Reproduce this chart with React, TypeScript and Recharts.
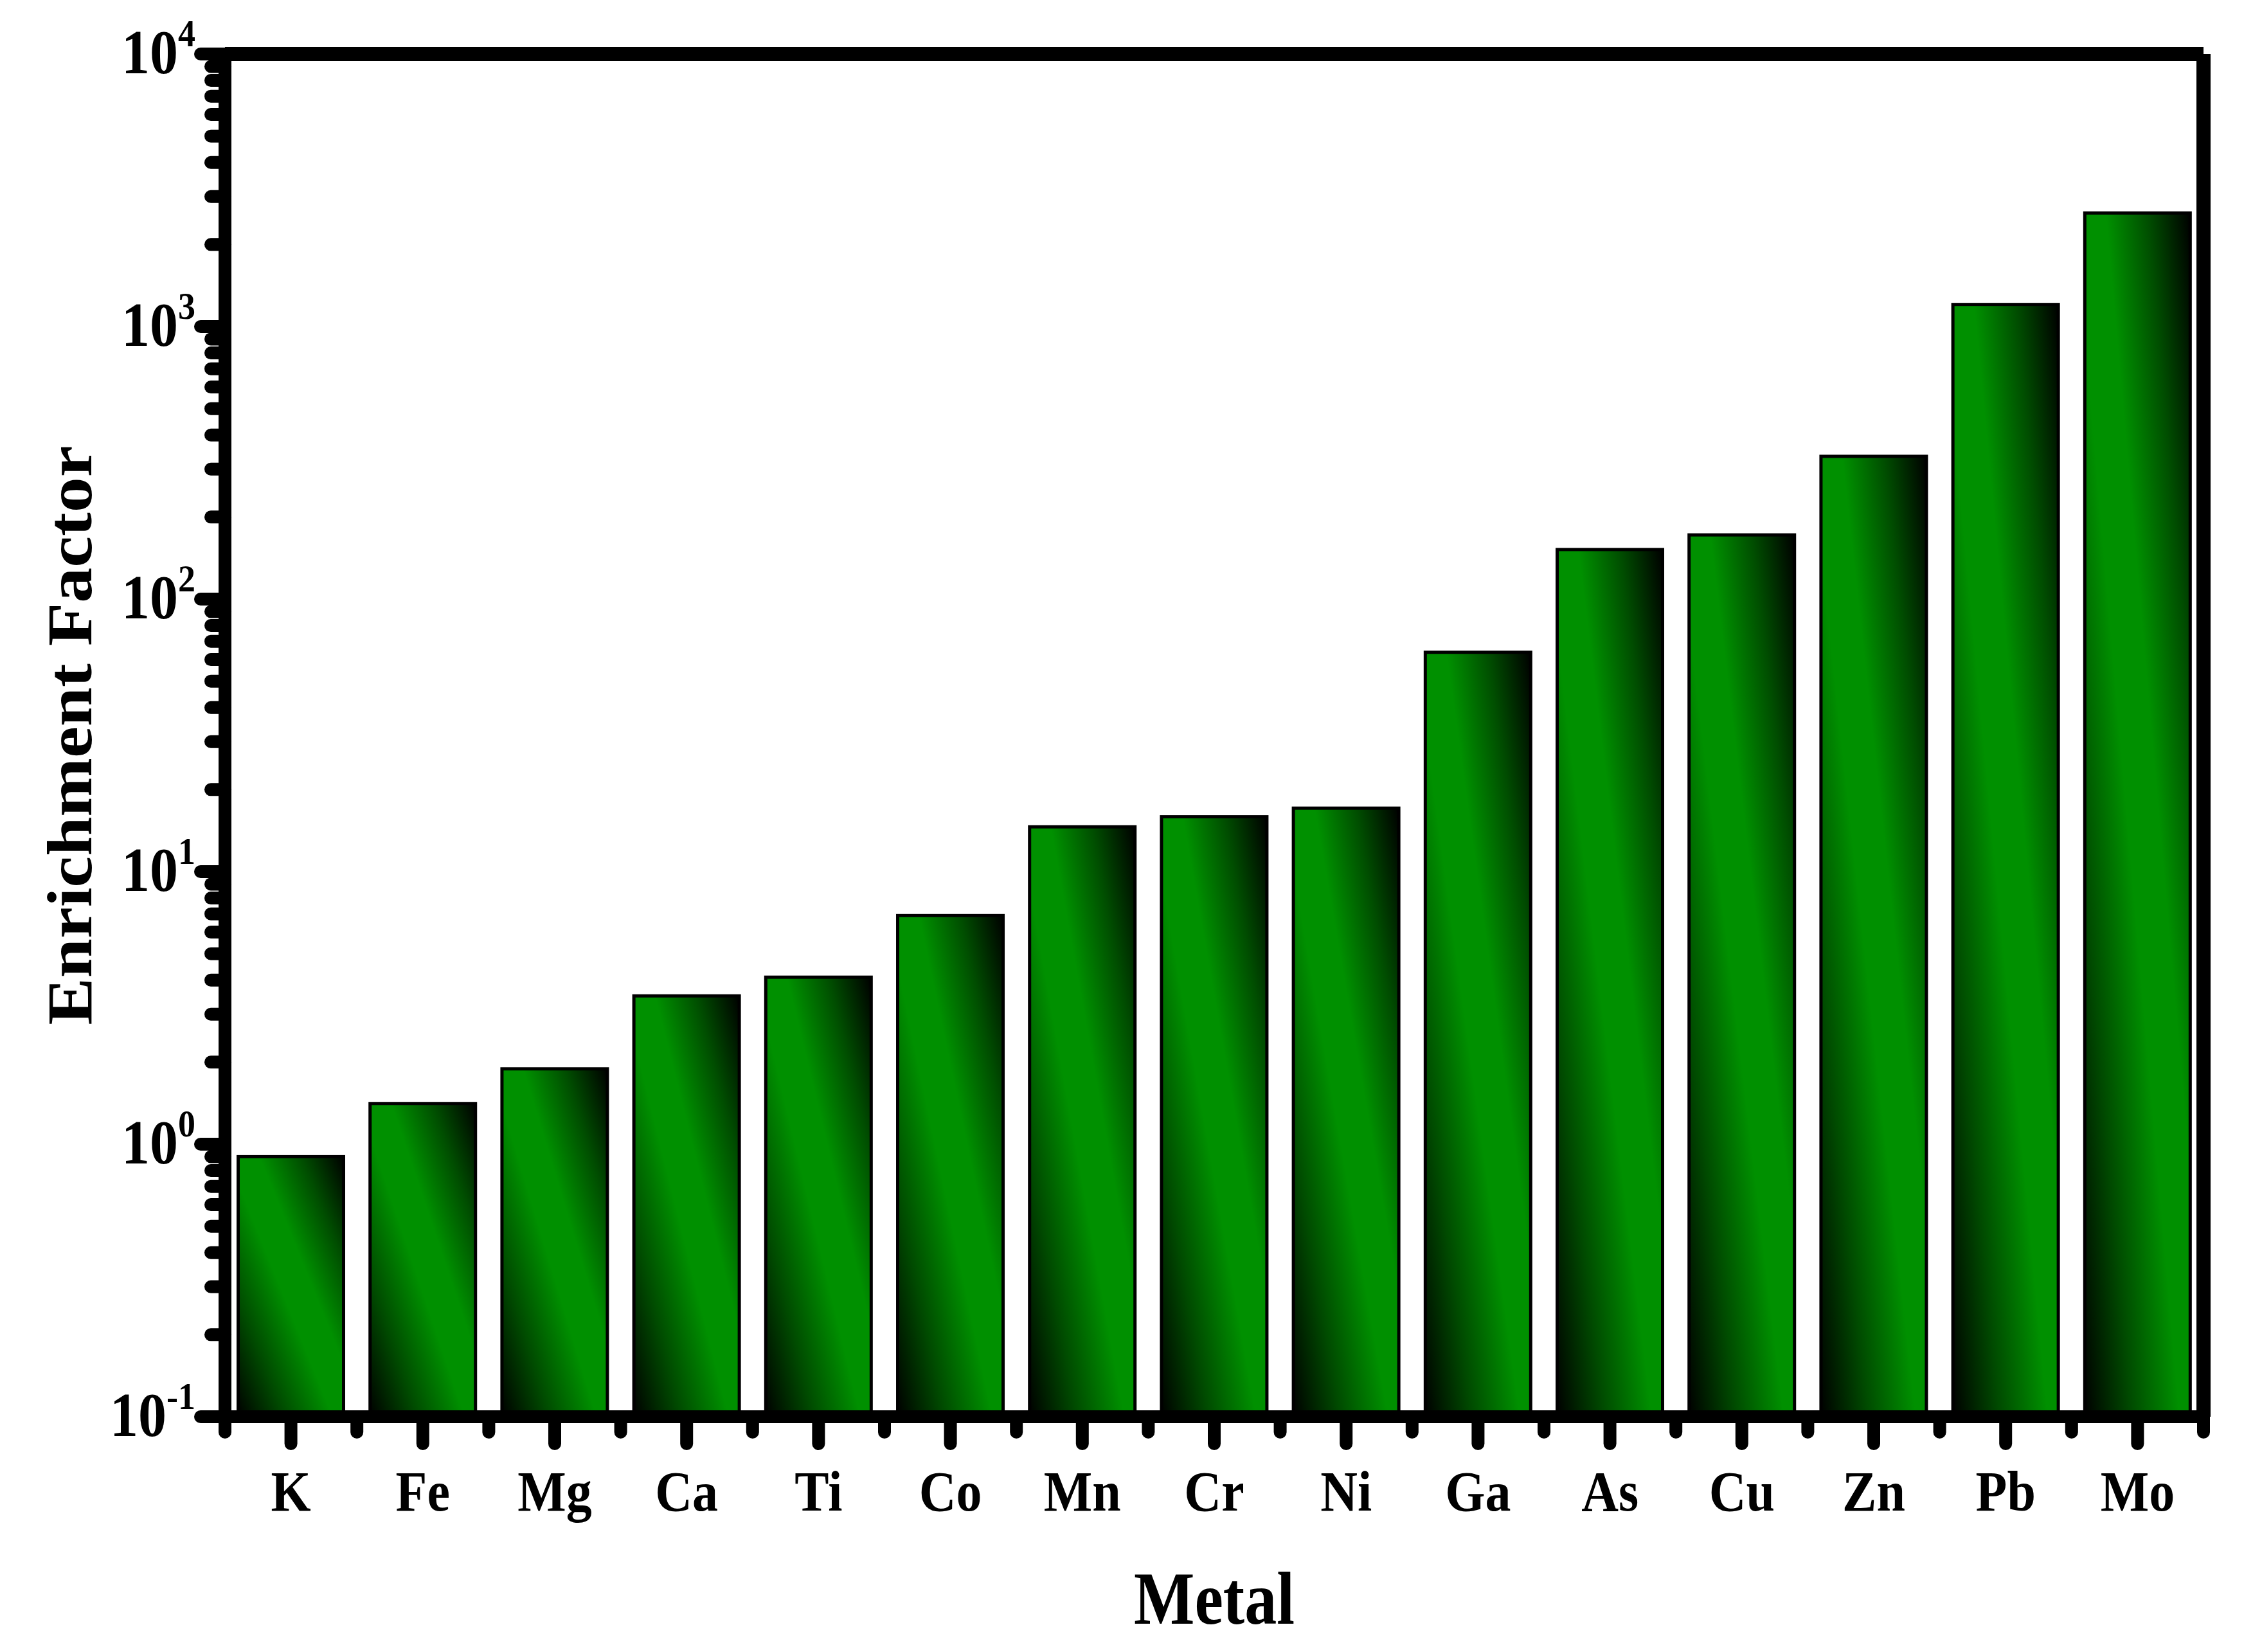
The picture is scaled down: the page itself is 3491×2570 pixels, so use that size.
import React from "react";
import { ComposedChart, Bar, XAxis, YAxis } from "recharts";

const metals = ["K", "Fe", "Mg", "Ca", "Ti", "Co", "Mn", "Cr", "Ni", "Ga", "As", "Cu", "Zn", "Pb", "Mo"];
const enrichment = [0.9, 1.41, 1.89, 3.5, 4.1, 6.9, 14.6, 15.9, 17.1, 63.8, 152, 172, 334, 1205, 2610];

const majorTicks = [0.1, 1, 10, 100, 1000, 10000];
const majorLabels = ["-1", "0", "1", "2", "3", "4"];
const minorSteps = [2, 3, 4, 5, 6, 7, 8, 9];

const data = metals.map((metal, i) => ({ metal, ef: enrichment[i] }));

// every tick on the log axis: majors plus 2..9 in each decade
const yTicks: number[] = [];
majorTicks.forEach((m, i) => {
    yTicks.push(m);
    if (i < majorTicks.length - 1) minorSteps.forEach((s) => yTicks.push(+(m * s).toPrecision(3)));
});

const FONT = "Liberation Serif, Times New Roman, serif";

const majorIndex = (v: number) => majorTicks.findIndex((m) => Math.abs(m - v) / m < 1e-6);

const YTick = (props: any) => {
    const { x, y, payload } = props;
    const idx = majorIndex(payload.value);
    const major = idx >= 0;
    return (
        <g>
            <line x1={x} x2={x - (major ? 38 : 22)} y1={y} y2={y} stroke="#000" strokeWidth={20} strokeLinecap="round" />
            {major && (
                <text
                    transform={`translate(${x - 46},${y + 30}) scale(1,1.1)`}
                    textAnchor="end"
                    fontFamily={FONT}
                    fontWeight="bold"
                    fontSize={88}
                    fill="#000"
                >
                    10
                    <tspan dy={-38} fontSize={54}>{majorLabels[idx]}</tspan>
                </text>
            )}
        </g>
    );
};

const XTick = (props: any) => {
    const { x, y, payload, index, width, visibleTicksCount } = props;
    const step = width && visibleTicksCount ? width / visibleTicksCount : 205;
    const last = index === visibleTicksCount - 1;
    return (
        <g>
            <line x1={x} x2={x} y1={y} y2={y + 42} stroke="#000" strokeWidth={20} strokeLinecap="round" />
            <line x1={x - step / 2} x2={x - step / 2} y1={y} y2={y + 24} stroke="#000" strokeWidth={20} strokeLinecap="round" />
            {last && <line x1={x + step / 2} x2={x + step / 2} y1={y} y2={y + 24} stroke="#000" strokeWidth={20} strokeLinecap="round" />}
            <text
                transform={`translate(${x},${y + 146}) scale(1,1.12)`}
                textAnchor="middle"
                fontFamily={FONT}
                fontWeight="bold"
                fontSize={80}
                fill="#000"
            >
                {payload.value}
            </text>
        </g>
    );
};

const GradientBar = (props: any) => {
    const { x, y, width, height } = props;
    if (!height || height <= 0) return null;
    return <rect x={x} y={y} width={width} height={height} fill="url(#barFill)" stroke="#000" strokeWidth={5} />;
};

export default function App() {
    return (
        <div style={{ position: "absolute", left: 0, top: 0, width: 3491, height: 2570, background: "#fff" }}>
            <ComposedChart
                width={3491}
                height={2570}
                data={data}
                margin={{ top: 83, right: 62, bottom: 116, left: 100 }}
                barCategoryGap="10%"
            >
                <defs>
                    <linearGradient id="barFill" x1="0" y1="1" x2="1" y2="0">
                        <stop offset="0" stopColor="#000000" />
                        <stop offset="0.22" stopColor="#004a00" />
                        <stop offset="0.45" stopColor="#009000" />
                        <stop offset="0.6" stopColor="#009000" />
                        <stop offset="0.8" stopColor="#004d00" />
                        <stop offset="1" stopColor="#000000" />
                    </linearGradient>
                </defs>
                <XAxis
                    dataKey="metal"
                    interval={0}
                    height={250}
                    tickSize={0}
                    tickMargin={0}
                    tickLine={false}
                    axisLine={{ stroke: "#000", strokeWidth: 20 }}
                    tick={<XTick />}
                    label={(p: any) => {
                        const vb = p.viewBox;
                        return (
                            <text
                                transform={`translate(${vb.x + vb.width / 2},${vb.y + 322}) scale(1,1.17)`}
                                textAnchor="middle"
                                fontFamily={FONT}
                                fontWeight="bold"
                                fontSize={100}
                                fill="#000"
                            >
                                Metal
                            </text>
                        );
                    }}
                />
                <XAxis
                    xAxisId="top"
                    orientation="top"
                    dataKey="metal"
                    height={1}
                    tick={false}
                    tickLine={false}
                    axisLine={{ stroke: "#000", strokeWidth: 22 }}
                />
                <YAxis
                    scale="log"
                    domain={[0.1, 10000]}
                    allowDataOverflow
                    ticks={yTicks}
                    interval={0}
                    width={250}
                    tickSize={0}
                    tickMargin={0}
                    tickLine={false}
                    axisLine={{ stroke: "#000", strokeWidth: 20 }}
                    tick={<YTick />}
                    label={(p: any) => {
                        const vb = p.viewBox;
                        const cx = vb.x + 42;
                        const cy = vb.y + vb.height / 2;
                        return (
                            <text
                                transform={`translate(${cx},${cy}) rotate(-90) scale(1.1,1)`}
                                textAnchor="middle"
                                fontFamily={FONT}
                                fontWeight="bold"
                                fontSize={100}
                                fill="#000"
                            >
                                Enrichment Factor
                            </text>
                        );
                    }}
                />
                <YAxis
                    yAxisId="right"
                    orientation="right"
                    scale="log"
                    domain={[0.1, 10000]}
                    allowDataOverflow
                    width={1}
                    tick={false}
                    tickLine={false}
                    axisLine={{ stroke: "#000", strokeWidth: 22 }}
                />
                <Bar dataKey="ef" shape={<GradientBar />} isAnimationActive={false} />
            </ComposedChart>
        </div>
    );
}
